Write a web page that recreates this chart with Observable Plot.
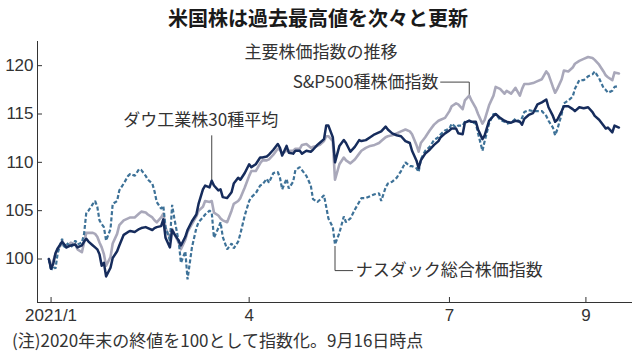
<!DOCTYPE html>
<html><head><meta charset="utf-8">
<script src="https://cdn.jsdelivr.net/npm/d3@7"></script>
<script src="https://cdn.jsdelivr.net/npm/@observablehq/plot@0.6"></script>
<style>
body{margin:0;background:#fff;width:638px;height:357px;overflow:hidden;font-family:"Noto Sans CJK JP",sans-serif;color:#222;}
#title{height:36px;line-height:36px;text-align:center;font-weight:bold;font-size:20px;color:#1a1a1a;padding-right:2px;}
#chart{height:290px;}
#caption{height:28px;line-height:28px;font-size:17px;padding-left:12px;color:#333;white-space:nowrap;}
</style></head><body>
<div id="title">米国株は過去最高値を次々と更新</div>
<div id="chart"></div>
<div id="caption">(注)2020年末の終値を100として指数化。9月16日時点</div>
<script>
const dates = ["2020-12-31","2021-01-01","2021-01-02","2021-01-03","2021-01-04","2021-01-06","2021-01-07","2021-01-08","2021-01-10","2021-01-12",
"2021-01-13","2021-01-15","2021-01-16","2021-01-17","2021-01-18","2021-01-20","2021-01-21","2021-01-22","2021-01-23","2021-01-24",
"2021-01-25","2021-01-26","2021-01-28","2021-01-29","2021-01-31","2021-02-01","2021-02-03","2021-02-05","2021-02-06","2021-02-08",
"2021-02-10","2021-02-11","2021-02-13","2021-02-14","2021-02-16","2021-02-17","2021-02-18","2021-02-20","2021-02-21","2021-02-22",
"2021-02-24","2021-02-25","2021-02-26","2021-02-28","2021-03-01","2021-03-03","2021-03-04","2021-03-06","2021-03-08","2021-03-09",
"2021-03-11","2021-03-12","2021-03-14","2021-03-15","2021-03-16","2021-03-18","2021-03-19","2021-03-20","2021-03-22","2021-03-24",
"2021-03-25","2021-03-27","2021-03-28","2021-03-30","2021-04-01","2021-04-02","2021-04-04","2021-04-06","2021-04-07","2021-04-09",
"2021-04-10","2021-04-12","2021-04-14","2021-04-15","2021-04-16","2021-04-18","2021-04-19","2021-04-21","2021-04-22","2021-04-24",
"2021-04-25","2021-04-27","2021-04-29","2021-04-30","2021-05-02","2021-05-03","2021-05-05","2021-05-06","2021-05-07","2021-05-09",
"2021-05-10","2021-05-12","2021-05-14","2021-05-15","2021-05-17","2021-05-19","2021-05-21","2021-05-22","2021-05-24","2021-05-26",
"2021-05-28","2021-05-30","2021-05-31","2021-06-02","2021-06-03","2021-06-05","2021-06-07","2021-06-09","2021-06-11","2021-06-13",
"2021-06-14","2021-06-16","2021-06-17","2021-06-18","2021-06-20","2021-06-22","2021-06-24","2021-06-26","2021-06-27","2021-06-29",
"2021-07-01","2021-07-02","2021-07-04","2021-07-05","2021-07-07","2021-07-08","2021-07-10","2021-07-11","2021-07-13","2021-07-14",
"2021-07-16","2021-07-17","2021-07-19","2021-07-21","2021-07-22","2021-07-24","2021-07-26","2021-07-27","2021-07-29","2021-07-31",
"2021-08-02","2021-08-03","2021-08-04","2021-08-06","2021-08-08","2021-08-10","2021-08-12","2021-08-14","2021-08-15","2021-08-17",
"2021-08-18","2021-08-19","2021-08-21","2021-08-22","2021-08-24","2021-08-26","2021-08-27","2021-08-29","2021-08-31","2021-09-02",
"2021-09-04","2021-09-05","2021-09-07","2021-09-09","2021-09-10","2021-09-11","2021-09-13","2021-09-14","2021-09-16"];

const dow = [100,99.0,99.5,100.6,101.1,101.8,101.5,101.2,101.4,101.5,
101.2,101.4,101.8,102.1,101.8,101.4,101.2,101.0,100.5,99.3,
99.6,98.2,99.1,100.1,100.8,101.4,102.5,102.8,102.9,102.8,
103.1,103.2,103.3,103.2,103.0,103.2,103.3,103.4,104.1,102.2,
101.2,103.0,102.6,101.9,101.4,102.3,103.0,103.9,104.6,105.7,
107.2,107.6,107.4,108.1,107.6,107.1,107.2,106.4,106.3,106.9,
107.8,108.4,108.2,108.9,109.8,109.5,109.8,110.5,110.5,110.6,
110.8,111.3,111.9,111.5,110.7,111.7,111.0,110.9,111.2,111.2,
110.9,111.2,111.1,111.3,111.8,112.0,112.4,113.8,113.8,112.6,
110.0,111.7,112.3,112.0,111.1,111.6,112.3,112.2,112.3,112.6,
112.9,113.1,113.2,113.7,113.4,113.0,112.8,112.7,112.2,112.0,
111.2,110.2,109.4,110.2,110.9,111.3,111.8,112.2,112.6,113.0,
113.3,113.5,113.5,113.0,112.9,114.1,114.3,114.2,114.2,113.4,
112.4,112.8,114.3,114.8,115.0,114.6,114.3,114.2,114.1,114.3,
114.2,113.9,114.5,114.9,115.1,116.0,116.2,116.5,115.7,114.8,
114.2,114.4,115.3,115.8,115.8,115.5,115.3,115.7,115.6,115.7,
115.2,114.8,114.4,113.8,113.5,113.6,113.1,113.8,113.6];

const sp500 = [100,99.1,99.8,100.5,101.0,101.6,101.4,101.2,101.7,101.5,
101.0,100.7,101.7,102.7,102.7,102.7,102.6,102.3,101.7,101.2,
100.5,99.3,100.2,101.6,102.6,103.5,104.0,104.2,104.3,104.3,
104.7,104.9,104.8,104.6,104.3,104.0,103.8,104.3,104.7,103.2,
102.2,103.1,102.6,101.7,101.0,102.0,102.8,103.6,104.4,105.0,
105.4,106.0,105.9,106.0,104.8,104.5,104.2,104.0,103.8,105.0,
105.7,106.0,106.3,107.4,108.6,109.1,109.1,109.9,110.2,110.2,
110.3,110.8,111.4,111.3,110.9,111.2,111.2,111.2,111.4,111.4,
111.8,111.9,111.5,111.6,111.7,111.8,112.2,112.7,112.7,112.2,
108.2,109.8,110.5,110.2,109.9,110.3,110.9,111.2,111.5,111.7,
111.8,112.0,112.2,112.6,112.7,112.8,113.0,113.2,113.4,113.2,
112.9,111.8,111.1,112.0,112.6,113.3,113.9,114.3,114.4,114.6,
115.3,115.8,116.1,116.0,115.5,116.4,116.9,116.4,115.6,115.0,
114.0,114.4,115.9,116.9,117.8,117.6,117.1,117.4,117.1,117.7,
116.9,117.6,118.1,118.1,118.2,118.4,118.6,119.4,119.1,117.8,
117.2,117.6,118.6,119.5,119.4,119.8,120.2,120.5,120.7,120.9,
120.8,120.6,120.1,119.4,119.0,118.8,118.5,119.3,119.2];

const nasdaq = [100,98.8,99.3,99.0,100.6,102.1,101.1,101.7,101.2,101.9,
101.5,101.7,102.6,104.8,105.0,105.7,106.0,105.4,104.0,103.6,
103.3,101.9,103.1,105.7,106.0,107.1,107.8,108.6,108.8,108.6,
109.3,109.2,108.6,108.2,107.8,107.0,105.9,105.2,105.5,103.3,
101.9,105.6,104.2,101.8,99.6,100.8,97.9,101.2,103.2,103.8,
104.3,104.6,105.0,104.8,102.2,103.2,103.8,102.3,101.0,101.6,
101.1,101.8,102.6,104.5,106.0,106.4,106.8,107.6,107.7,108.3,
107.9,108.9,109.0,108.4,107.2,108.3,107.3,108.0,109.2,109.5,
109.2,108.6,107.6,106.2,105.9,106.1,106.6,105.4,104.2,103.3,
101.5,102.7,104.4,103.8,104.2,105.1,105.9,106.3,106.3,106.5,
106.7,106.8,106.0,107.4,107.8,108.0,108.4,109.1,110.0,109.6,
109.6,109.4,109.0,110.3,111.2,111.6,112.3,112.6,112.9,113.3,
113.5,114.0,113.6,113.8,113.8,114.2,114.3,114.2,114.0,113.0,
111.2,112.2,114.0,115.0,115.0,114.4,114.2,114.0,114.1,114.5,
114.2,114.6,115.2,115.4,115.3,115.3,115.3,114.8,114.3,113.6,
112.8,113.4,115.0,116.1,116.4,116.8,117.6,118.5,118.5,118.9,
119.1,119.4,118.7,117.7,117.5,117.2,117.4,117.8,117.9];

const seriesNames = ["ダウ工業株30種平均", "S&P500種株価指数", "ナスダック総合株価指数"];
const yTicks = [100, 105, 110, 115, 120];
const xTickDates = ["2021-01-01", "2021-04-01", "2021-07-01", "2021-09-01"];
const xTickLabels = ["2021/1", "4", "7", "9"];
const subtitle = "主要株価指数の推移";

const parse = d3.utcParse("%Y-%m-%d");
const rows = dates.map((d, i) => ({date: parse(d), dow: dow[i], sp: sp500[i], nas: nasdaq[i]}));
const byDate = new Map(dates.map((d, i) => [d, rows[i]]));
const xt = xTickDates.map(parse);
const labelMap = new Map(xt.map((d, i) => [+d, xTickLabels[i]]));

const W = 638, H = 290, mL = 37, mR = 6, mT = 5, mB = 24;
const xDomain = [new Date("2020-12-25T20:00:00Z"), new Date("2021-09-22T04:00:00Z")];
const yDomain = [95.5, 122.5];

// annotation anchors (data space)
const dowPt = byDate.get("2021-03-15");
const spPt = byDate.get("2021-07-10");
const nasPt = byDate.get("2021-05-10");
const dowLeader = [{date: dowPt.date, v: dowPt.dow}, {date: dowPt.date, v: 112.75}];
const spLeader = [{date: parse("2021-06-27"), v: 118.3}, {date: spPt.date, v: 118.3}, {date: spPt.date, v: spPt.sp}];
const nasLeader = [{date: nasPt.date, v: nasPt.nas - 0.2}, {date: nasPt.date, v: 98.8}, {date: parse("2021-05-18"), v: 98.8}];
const cjk = "'Noto Sans CJK JP', sans-serif";

const chart = Plot.plot({
  width: W, height: H, marginLeft: mL, marginRight: mR, marginTop: mT, marginBottom: mB,
  style: {fontFamily: "'Liberation Sans Narrow', 'Liberation Sans', sans-serif", fontSize: "17px", color: "#333", background: "#fff", overflow: "visible"},
  x: {type: "utc", domain: xDomain, ticks: xt, tickFormat: d => labelMap.get(+d), tickSize: 0, tickPadding: 6, label: null},
  y: {domain: yDomain, ticks: yTicks, tickSize: 0, tickPadding: 4, label: null},
  marks: [
    Plot.ruleX([xDomain[0]], {stroke: "#333", strokeWidth: 1}),
    Plot.ruleY([yDomain[0]], {stroke: "#333", strokeWidth: 1}),
    Plot.tickY(yTicks, {y: d => d, insetRight: W - mL - mR - 5, stroke: "#333"}),
    Plot.tickX(xt, {x: d => d, insetTop: H - mT - mB - 5, stroke: "#333"}),
    Plot.text([subtitle], {frameAnchor: "top", dx: -14, dy: 4, fontSize: 17, fontFamily: cjk, fill: "#333"}),
    Plot.line(dowLeader, {x: "date", y: "v", stroke: "#444", strokeWidth: 1}),
    Plot.line(spLeader, {x: "date", y: "v", stroke: "#444", strokeWidth: 1}),
    Plot.line(nasLeader, {x: "date", y: "v", stroke: "#444", strokeWidth: 1}),
    Plot.line(rows, {x: "date", y: "sp", stroke: "#a9a8ba", strokeWidth: 2.6}),
    Plot.line(rows, {x: "date", y: "nas", stroke: "#3e7298", strokeWidth: 2.2, strokeDasharray: "4,2.2", strokeLinecap: "butt", strokeLinejoin: "miter"}),
    Plot.line(rows, {x: "date", y: "dow", stroke: "#162c5c", strokeWidth: 2.5}),
    Plot.text([seriesNames[0]], {x: parse("2021-03-10"), y: 114.3, text: d => d, fontSize: 17, fontFamily: cjk, fill: "#333", textAnchor: "middle"}),
    Plot.text([seriesNames[1]], {x: parse("2021-06-26"), y: 118.3, text: d => d, fontSize: 17, fontFamily: cjk, fill: "#333", textAnchor: "end"}),
    Plot.text([seriesNames[2]], {x: parse("2021-05-19"), y: 98.8, text: d => d, fontSize: 17, fontFamily: cjk, fill: "#333", textAnchor: "start", dx: 1})
  ]
});
document.getElementById("chart").appendChild(chart);
</script>
</body></html>
